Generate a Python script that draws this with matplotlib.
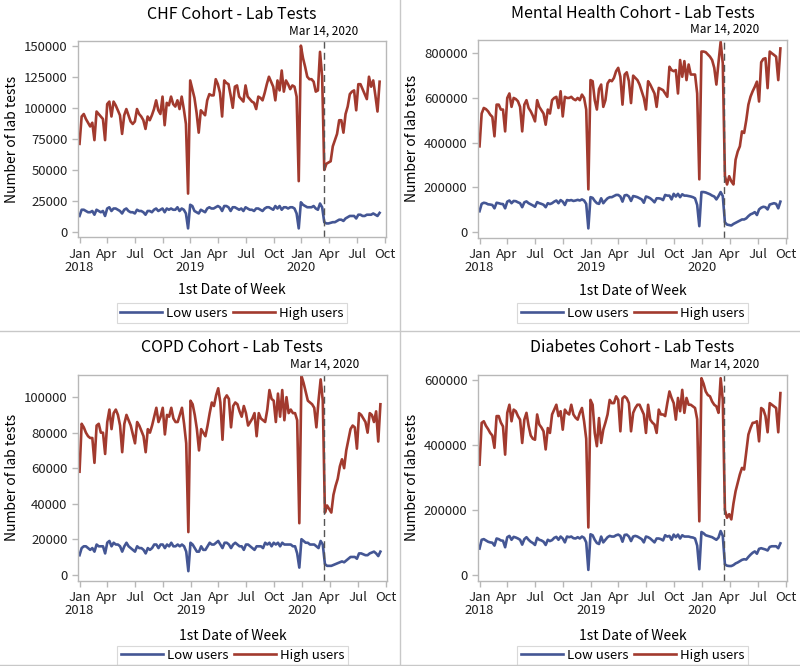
import numpy as np
import pandas as pd
import matplotlib
matplotlib.use("Agg")
import matplotlib.pyplot as plt
from matplotlib.lines import Line2D

plt.rcParams['font.family'] = ['Noto Sans CJK JP', 'DejaVu Sans']

# weekly counts, in thousands, first date of week from 2018-01-01
chf_low = [13, 18, 18, 17, 16, 16, 17, 14, 18, 17, 16, 17, 13, 19, 20, 17, 19, 19, 18, 17,
           15, 18, 19, 17, 16, 16, 15, 18, 17, 17, 16, 14, 17, 17, 16, 18, 19, 17, 18, 19,
           16, 19, 18, 19, 18, 18, 20, 17, 19, 18, 15, 3,
           22, 21, 17, 16, 15, 18, 17, 16, 19, 20, 19, 19, 20, 21, 20, 17, 21, 21, 20, 17,
           20, 20, 19, 18, 19, 17, 20, 19, 18, 18, 17, 19, 19, 18, 17, 19, 20, 20, 19, 18,
           21, 19, 21, 18, 20, 20, 19, 20, 20, 19, 15, 3,
           24, 22, 21, 20, 20, 20, 21, 19, 18, 23, 20, 8, 7, 7, 7.5, 8, 8, 9, 10, 10,
           9, 11, 12, 13, 13, 13, 11, 14, 14, 13, 13, 14, 14, 14, 15, 14, 13, 15.5]
chf_high = [71, 93, 95, 91, 88, 85, 88, 74, 97, 95, 93, 91, 74, 103, 105, 93, 105, 102, 98, 94,
            79, 94, 99, 94, 89, 87, 89, 99, 95, 93, 90, 83, 93, 90, 94, 99, 106, 98, 95, 109,
            86, 104, 102, 109, 103, 101, 106, 99, 109, 99, 87, 31,
            122, 115, 108, 96, 80, 98, 96, 94, 106, 111, 110, 110, 123, 119, 112, 93, 122, 120, 119, 110,
            100, 117, 118, 109, 107, 105, 118, 109, 107, 105, 104, 99, 109, 108, 106, 112, 119, 125, 121, 117,
            106, 122, 114, 130, 113, 122, 119, 115, 118, 117, 109, 41,
            150, 140, 133, 125, 123, 123, 121, 113, 114, 145, 125, 50, 55, 56, 57, 69, 74, 79, 90, 90,
            80, 95, 101, 111, 113, 114, 98, 119, 119, 115, 111, 107, 125, 117, 122, 110, 97, 121]

mh_low = [92, 125, 130, 128, 123, 122, 120, 105, 130, 128, 125, 124, 105, 135, 140, 128, 138, 137, 132, 128,
          110, 132, 136, 128, 123, 118, 112, 133, 128, 125, 121, 110, 128, 124, 128, 135, 140, 128, 142, 135,
          120, 142, 140, 142, 138, 140, 143, 140, 145, 140, 125, 15,
          155, 152, 138, 128, 125, 150, 128, 140, 150, 155, 155, 160, 165, 165, 158, 135, 163, 165, 158, 138,
          160, 158, 155, 150, 145, 130, 158, 155, 150, 142, 132, 150, 150, 148, 142, 165, 162, 162, 145, 170,
          158, 170, 155, 168, 162, 162, 160, 158, 155, 150, 120, 25,
          178, 178, 176, 172, 168, 162, 158, 145, 160, 178, 160, 42, 32, 30, 28, 35, 40, 45, 50, 55,
          55, 60, 70, 78, 82, 88, 75, 100, 108, 112, 110, 100, 122, 125, 128, 125, 105, 135]
mh_high = [383, 530, 555, 550, 540, 525, 515, 428, 570, 570, 548, 548, 450, 600, 620, 560, 600, 595, 585, 560,
           450, 570, 590, 555, 540, 520, 495, 590, 560, 545, 530, 480, 548, 530, 590, 600, 605, 555, 630, 517,
           605, 600, 600, 605, 595, 590, 600, 590, 615, 600, 548, 190,
           680, 675, 590, 548, 640, 660, 560, 590, 665, 680, 675, 690, 720, 735, 695, 570, 705, 715, 675, 577,
           700, 690, 680, 660, 630, 600, 548, 675, 660, 640, 620, 560, 645, 640, 635, 620, 605, 740, 725, 720,
           725, 620, 770, 695, 765, 680, 750, 705, 705, 705, 620, 235,
           808, 808, 805, 795, 785, 770, 735, 660, 760, 852, 755, 250, 212, 249, 226, 212, 323, 360, 383, 450,
           443, 500, 570, 606, 630, 650, 673, 584, 760, 775, 778, 644, 808, 800, 793, 785, 680, 822]

copd_low = [11, 15, 16, 16, 15, 14, 15, 13, 17, 16, 16, 16, 12, 18, 19, 16, 18, 17, 17, 16,
            13, 16, 18, 16, 15, 14, 13, 16, 15, 15, 14, 12, 15, 14, 15, 17, 17, 15, 17, 17,
            15, 17, 16, 18, 16, 16, 17, 16, 17, 16, 13, 2,
            18, 17, 15, 13, 13, 16, 14, 14, 16, 18, 17, 17, 18, 19, 17, 15, 18, 18, 17, 15,
            17, 18, 17, 16, 16, 14, 17, 17, 16, 15, 14, 16, 16, 16, 15, 18, 17, 18, 16, 18,
            17, 18, 16, 18, 17, 17, 17, 17, 16, 16, 12, 4,
            20, 19, 18, 18, 17, 17, 17, 16, 15, 19, 17, 6, 5, 5, 5, 5.5, 6, 6.5, 7, 7.5,
            7, 8, 9, 10, 10, 10, 9, 12, 12, 11.5, 11, 11, 12, 12.5, 13, 12, 10.5, 13]
copd_high = [58, 85, 83, 80, 78, 77, 77, 63, 84, 85, 80, 80, 68, 86, 93, 82, 91, 93, 90, 84,
             69, 85, 90, 87, 84, 79, 74, 86, 84, 81, 78, 69, 82, 80, 84, 89, 94, 86, 89, 94,
             79, 90, 89, 94, 88, 86, 86, 90, 94, 85, 74, 24,
             98, 96, 90, 82, 70, 82, 80, 78, 84, 91, 97, 95, 101, 105, 97, 76, 99, 101, 99, 83,
             95, 97, 96, 92, 89, 95, 91, 84, 86, 88, 91, 78, 91, 88, 87, 86, 93, 104, 99, 98,
             86, 102, 89, 104, 87, 100, 91, 93, 91, 91, 87, 29,
             112, 108, 103, 98, 97, 96, 94, 83, 98, 110, 98, 35, 39, 37, 35, 45, 50, 54, 61, 65,
             60, 70, 76, 82, 84, 83, 71, 91, 90, 88, 86, 80, 91, 90, 86, 92, 75, 96]

dm_low = [81, 108, 110, 106, 102, 100, 99, 90, 112, 110, 106, 105, 85, 116, 120, 108, 117, 115, 112, 108,
          93, 110, 116, 108, 102, 98, 92, 114, 108, 106, 102, 92, 108, 104, 107, 114, 117, 108, 118, 112,
          100, 118, 116, 118, 113, 112, 116, 112, 118, 114, 100, 15,
          125, 122, 108, 98, 95, 118, 100, 108, 116, 120, 118, 118, 122, 124, 120, 102, 123, 124, 118, 104,
          118, 120, 118, 114, 110, 100, 118, 116, 112, 106, 100, 112, 112, 110, 106, 122, 118, 120, 108, 124,
          116, 124, 112, 122, 118, 118, 118, 116, 115, 112, 90, 17,
          132, 128, 122, 120, 118, 116, 112, 108, 115, 135, 120, 32, 28, 27, 27, 30, 35, 38, 42, 46,
          48, 47, 55, 62, 68, 72, 65, 80, 82, 80, 78, 75, 86, 88, 88, 88, 82, 97]
dm_high = [340, 469, 474, 460, 450, 438, 430, 392, 490, 490, 470, 458, 371, 500, 525, 474, 510, 505, 490, 479,
           407, 479, 500, 460, 430, 420, 417, 495, 464, 455, 443, 387, 453, 438, 495, 510, 525, 490, 505, 448,
           510, 500, 495, 525, 495, 485, 479, 500, 515, 474, 420, 146,
           540, 525, 438, 397, 484, 407, 448, 470, 495, 540, 530, 530, 551, 540, 443, 545, 551, 545, 530, 443,
           500, 515, 525, 525, 510, 495, 438, 525, 479, 470, 464, 438, 510, 495, 495, 490, 530, 566, 546, 530,
           479, 546, 505, 571, 500, 546, 525, 525, 520, 515, 480, 165,
           607, 590, 566, 555, 551, 535, 525, 520, 500, 607, 540, 200, 176, 187, 171, 220, 258, 284, 310, 330,
           325, 380, 433, 453, 469, 470, 474, 412, 515, 510, 490, 440, 530, 525, 520, 515, 440, 561]

titles = ['CHF Cohort - Lab Tests', 'Mental Health Cohort - Lab Tests',
          'COPD Cohort - Lab Tests', 'Diabetes Cohort - Lab Tests']
lows = [chf_low, mh_low, copd_low, dm_low]
highs = [chf_high, mh_high, copd_high, dm_high]
yticks = [np.arange(0, 150001, 25000), np.arange(0, 800001, 200000),
          np.arange(0, 100001, 20000), np.arange(0, 600001, 200000)]
ylims = [(-4000, 153500), (-27000, 860000), (-3400, 112500), (-18500, 617000)]
cutoff = pd.Timestamp('2020-03-14')

blue = '#445694'
red = '#A23A2E'
frame = '#b8b8b8'

fig = plt.figure(figsize=(8, 6.66), dpi=100)
# [left, bottom, width, height], legend y
boxes = [([0.0975, 0.644, 0.385, 0.294], 0.530),
         ([0.5975, 0.643, 0.386, 0.297], 0.530),
         ([0.0975, 0.128, 0.386, 0.309], 0.016),
         ([0.5975, 0.128, 0.386, 0.309], 0.016)]

for k in range(4):
    rect, leg_y = boxes[k]
    ax = fig.add_axes(rect)
    dates = pd.date_range('2018-01-01', periods=len(lows[k]), freq='7D')
    ax.plot(dates, np.array(lows[k]) * 1000, color=blue, lw=1.9, label='Low users')
    ax.plot(dates, np.array(highs[k]) * 1000, color=red, lw=1.9, label='High users')
    ax.axvline(cutoff, color='#555555', lw=1.0, ls=(0, (5, 3)))
    ax.set_xlim(pd.Timestamp('2017-12-27'), pd.Timestamp('2020-10-05'))
    ax.set_ylim(*ylims[k])
    ax.set_yticks(yticks[k])
    ax.set_yticklabels([str(int(v)) for v in yticks[k]], fontsize=9.5)
    ticks = pd.date_range('2018-01-01', '2020-10-01', freq='QS')
    ax.set_xticks(ticks)
    ax.set_xticklabels([t.strftime('%b') + ('\n' + str(t.year) if t.month == 1 else '') for t in ticks],
                       fontsize=9.5, va='top', linespacing=1.0)
    ax.tick_params(axis='both', colors=frame, labelcolor='#222222', length=4, width=1)
    for s in ax.spines.values():
        s.set_color(frame)
        s.set_linewidth(1)
    ax.set_ylabel('Number of lab tests', fontsize=10)
    ax.yaxis.set_label_coords(-0.19, 0.5)
    ax.set_xlabel('1st Date of Week', fontsize=10, va='top')
    ax.xaxis.set_label_coords(0.5, -0.235)
    ax.text(0.5, 1.135, titles[k], transform=ax.transAxes, ha='center', va='center', fontsize=11.5)
    ax.text(cutoff, 1.02, 'Mar 14, 2020', transform=ax.get_xaxis_transform(),
            ha='center', va='bottom', fontsize=8.5)
    cx = rect[0] + rect[2] / 2
    leg = ax.legend(loc='center', bbox_to_anchor=(cx, leg_y), bbox_transform=fig.transFigure,
                    ncol=2, fontsize=9.5, frameon=True, fancybox=False, handlelength=3.2,
                    columnspacing=0.4, handletextpad=0.3, borderpad=0.25)
    leg.get_frame().set_edgecolor('#d0d0d0')
    leg.get_frame().set_linewidth(0.8)

# panel separators
fig.add_artist(Line2D([0.5, 0.5], [0, 1], transform=fig.transFigure, color='#c8c8c8', lw=1))
fig.add_artist(Line2D([0, 1], [0.503, 0.503], transform=fig.transFigure, color='#c8c8c8', lw=1))
fig.add_artist(Line2D([0, 1], [0.002, 0.002], transform=fig.transFigure, color='#c8c8c8', lw=1))

fig.savefig('out.png', dpi=100)
